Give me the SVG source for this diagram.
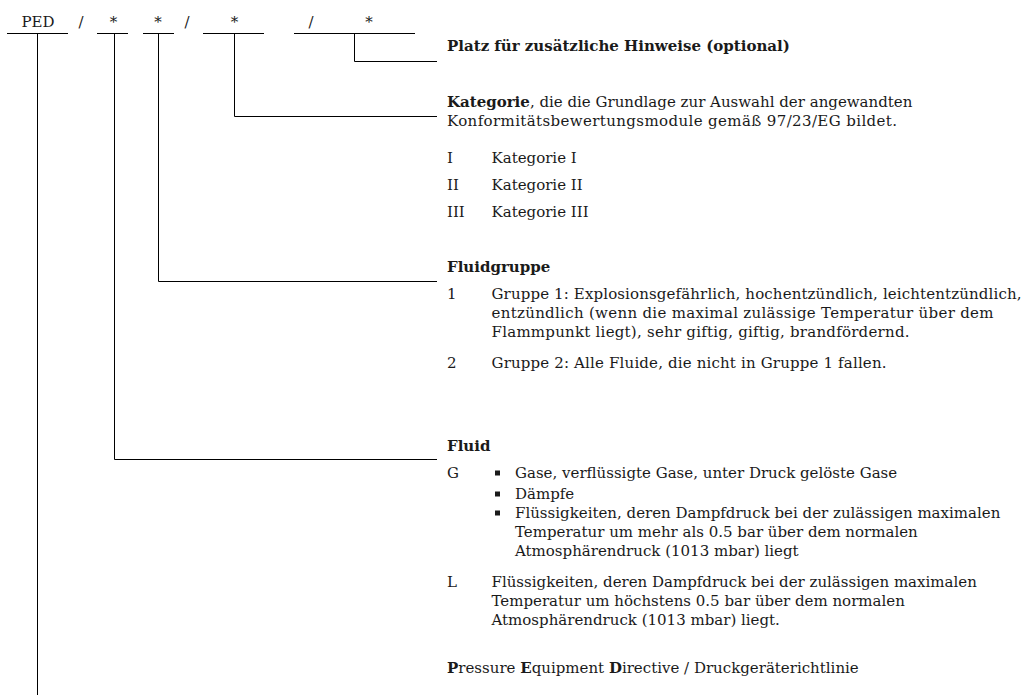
<svg xmlns="http://www.w3.org/2000/svg" width="1026" height="695" viewBox="0 0 1026 695">
<style>
text{font-family:"DejaVu Serif","Liberation Serif",serif;font-size:15px;fill:#1a1a1a}
.b{font-weight:bold}
.c{text-anchor:middle}
.sq{fill:#1a1a1a}
line,polyline{stroke:#000;stroke-width:1;fill:none}
</style>
<rect width="1026" height="695" fill="#fff"/>
<g id="code">
<text class="c" x="38" y="26.5">PED</text>
<text class="c" x="81" y="26.5">/</text>
<text class="c" x="113.5" y="26.5">*</text>
<text class="c" x="158" y="26.5">*</text>
<text class="c" x="187" y="26.5">/</text>
<text class="c" x="234.5" y="26.5">*</text>
<text class="c" x="311" y="26.5">/</text>
<text class="c" x="369" y="26.5">*</text>
</g>
<g id="connectors">
<line x1="7" y1="33.5" x2="68" y2="33.5"/>
<line x1="97" y1="33.5" x2="128" y2="33.5"/>
<line x1="143" y1="33.5" x2="174" y2="33.5"/>
<line x1="203" y1="33.5" x2="264" y2="33.5"/>
<line x1="294" y1="33.5" x2="415" y2="33.5"/>
<polyline points="354.5,33.5 354.5,61.5 437,61.5"/>
<polyline points="234.5,33.5 234.5,116.5 437,116.5"/>
<polyline points="158.5,33.5 158.5,281.5 437,281.5"/>
<polyline points="114.5,33.5 114.5,459.5 437,459.5"/>
<line x1="37.5" y1="33.5" x2="37.5" y2="695"/>
</g>
<g id="hinweise">
<text class="b" x="447" y="51">Platz für zusätzliche Hinweise (optional)</text>
</g>
<g id="kategorie">
<text x="447" y="107"><tspan class="b">Kategorie</tspan>, die die Grundlage zur Auswahl der angewandten</text>
<text x="447" y="125.5" textLength="450" lengthAdjust="spacing">Konformitätsbewertungsmodule gemäß 97/23/EG bildet.</text>
<text x="447" y="163">I</text><text x="491.5" y="163">Kategorie I</text>
<text x="447" y="190">II</text><text x="491.5" y="190">Kategorie II</text>
<text x="447" y="217">III</text><text x="491.5" y="217">Kategorie III</text>
</g>
<g id="fluidgruppe">
<text class="b" x="447" y="272">Fluidgruppe</text>
<text x="447" y="299">1</text>
<text x="491.5" y="299" textLength="530" lengthAdjust="spacing">Gruppe 1: Explosionsgefährlich, hochentzündlich, leichtentzündlich,</text>
<text x="491.5" y="318" textLength="502" lengthAdjust="spacing">entzündlich (wenn die maximal zulässige Temperatur über dem</text>
<text x="491.5" y="337" textLength="418" lengthAdjust="spacing">Flammpunkt liegt), sehr giftig, giftig, brandfördernd.</text>
<text x="447" y="368">2</text>
<text x="491.5" y="368" textLength="395" lengthAdjust="spacing">Gruppe 2: Alle Fluide, die nicht in Gruppe 1 fallen.</text>
</g>
<g id="fluid">
<text class="b" x="447" y="451">Fluid</text>
<text x="447" y="478">G</text>
<rect class="sq" x="495" y="470.5" width="5" height="5"/>
<text x="515" y="478">Gase, verflüssigte Gase, unter Druck gelöste Gase</text>
<rect class="sq" x="495" y="491.5" width="5" height="5"/>
<text x="515" y="499">Dämpfe</text>
<rect class="sq" x="495" y="510.5" width="5" height="5"/>
<text x="515" y="518">Flüssigkeiten, deren Dampfdruck bei der zulässigen maximalen</text>
<text x="515" y="537">Temperatur um mehr als 0.5 bar über dem normalen</text>
<text x="515" y="556">Atmosphärendruck (1013 mbar) liegt</text>
<text x="447" y="587">L</text>
<text x="491.5" y="587">Flüssigkeiten, deren Dampfdruck bei der zulässigen maximalen</text>
<text x="491.5" y="606">Temperatur um höchstens 0.5 bar über dem normalen</text>
<text x="491.5" y="625">Atmosphärendruck (1013 mbar) liegt.</text>
</g>
<g id="ped">
<text x="447" y="673"><tspan class="b">P</tspan>ressure <tspan class="b">E</tspan>quipment <tspan class="b">D</tspan>irective / Druckgeräterichtlinie</text>
</g>
</svg>
